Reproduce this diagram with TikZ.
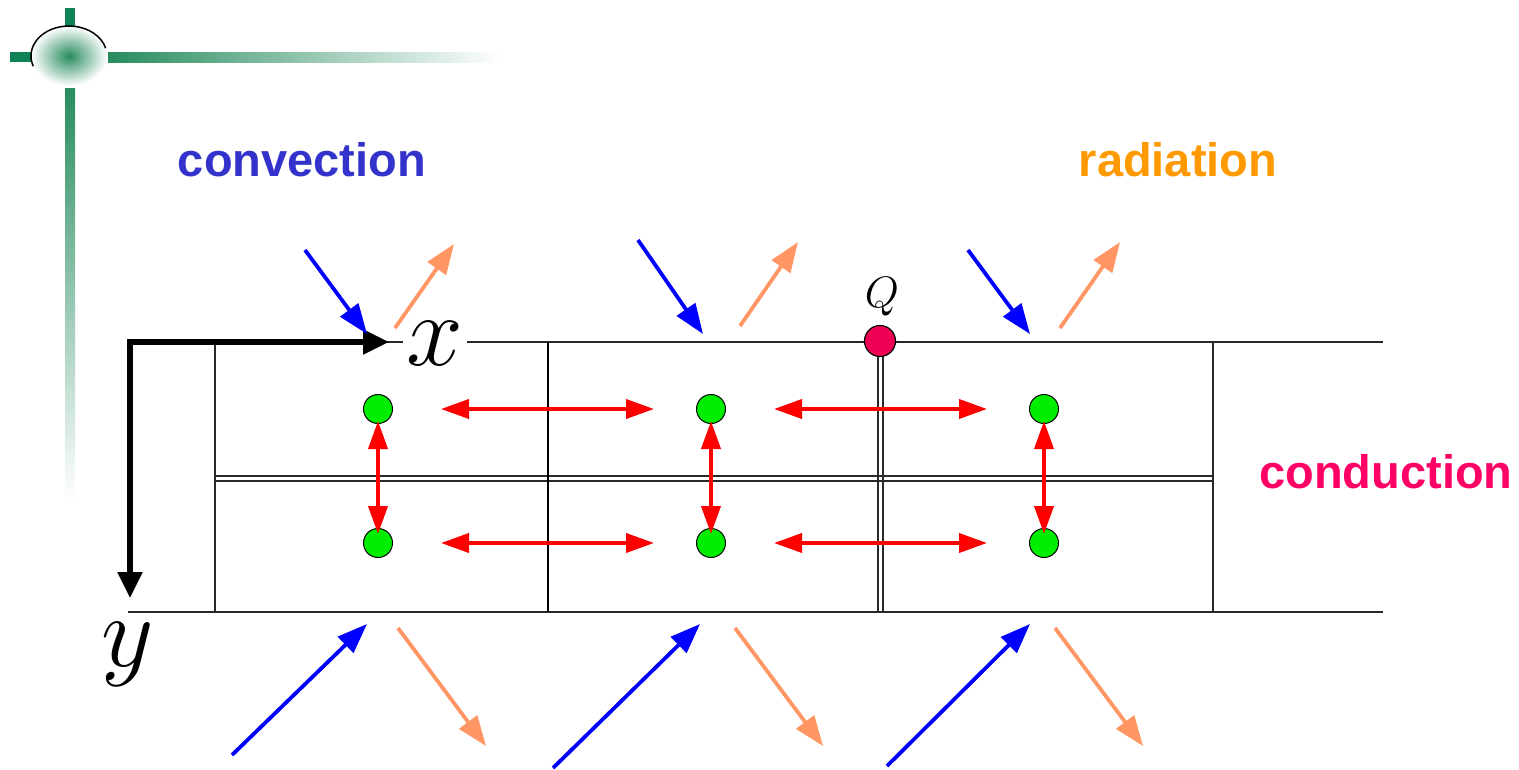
\RequirePackage{fix-cm}
\documentclass[tikz,border=0pt]{standalone}
\usepackage{fontspec}
\newfontfamily\labfont{Liberation Sans}
\usetikzlibrary{arrows.meta,calc,positioning}
\definecolor{deco}{RGB}{40,140,95}
\definecolor{decodark}{RGB}{16,130,85}
\definecolor{convblue}{RGB}{51,51,204}
\definecolor{radorange}{RGB}{255,153,0}
\definecolor{condpink}{RGB}{255,0,102}
\definecolor{salmon}{RGB}{255,150,100}
\definecolor{qpink}{RGB}{238,0,85}
\definecolor{dotgreen}{RGB}{0,238,0}
\definecolor{gridgray}{RGB}{40,40,40}
\tikzset{
  gridline/.style={draw=gridgray,line width=1.6pt},
  redarr/.style={draw=red,line width=3.8pt,{Triangle[length=28pt,width=19pt]}-{Triangle[length=28pt,width=19pt]}},
  bluearr/.style={draw=blue,line width=3.8pt,-{Triangle[length=30pt,width=22pt]}},
  orangearr/.style={draw=salmon,line width=3.8pt,-{Triangle[length=30pt,width=22pt]}},
  axisarr/.style={draw=black,line width=5.5pt,-{Triangle[length=26pt,width=24pt]}},
  dot/.style={circle,draw=black,line width=1pt,fill=dotgreen,minimum size=29pt,inner sep=0pt},
  qdot/.style={circle,draw=black,line width=1.2pt,fill=qpink,minimum size=31pt,inner sep=0pt},
  lab/.style={font=\labfont\bfseries\fontsize{47}{50}\selectfont,inner sep=0pt},
  mathlab/.style={inner sep=0pt,font=\fontsize{102}{102}\selectfont}
}
\begin{document}
\begin{tikzpicture}[x=1pt,y=-1pt]
\useasboundingbox (0,0) rectangle (1519,769);
% decoration
\shade[left color=deco,right color=white] (108,52) rectangle (500,62);
\shade[top color=deco,bottom color=white] (65,88) rectangle (75,500);
\fill[decodark] (10,52) rectangle (31,62);
\fill[decodark] (65,8) rectangle (75,26);
\shade[inner color=deco,outer color=white] (69,56) ellipse [x radius=38,y radius=30];
\draw[black,line width=1.5pt] (69,56) ++(160:38 and 30) arc[start angle=160,end angle=345,x radius=38,y radius=30];
% grid
\draw[gridline] (130,342) -- (1383,342);
\draw[gridline] (128,612) -- (1383,612);
\draw[gridline] (215,476) -- (1213,476);
\draw[gridline] (215,481) -- (1213,481);
\draw[gridline] (215,342) -- (215,612);
\draw[draw=black,line width=2.8pt] (548,342) -- (548,612);
\draw[gridline] (878,342) -- (878,612);
\draw[gridline] (883,342) -- (883,612);
\draw[gridline] (1213,342) -- (1213,612);
% axes
\coordinate (O) at (130,342);
\coordinate (xe) at (389,342);
\coordinate (ye) at (130,598);
\draw[axisarr] ([xshift=-2.75pt]O) -- (xe);
\draw[axisarr] (O) -- (ye);
\node[mathlab,fill=white,inner xsep=4pt] (xl) at (435,344) {$x$};
\node[mathlab] (yl) at (128,654) {$y$};
% dots
\node[dot] (a1) at (378,409) {};
\node[dot] (a2) at (711,409) {};
\node[dot] (a3) at (1044,409) {};
\node[dot] (b1) at (378,543) {};
\node[dot] (b2) at (711,543) {};
\node[dot] (b3) at (1044,543) {};
% conduction arrows
\draw[redarr] ([xshift=48pt]a1.east) -- ([xshift=-42pt]a2.west);
\draw[redarr] ([xshift=48pt]a2.east) -- ([xshift=-42pt]a3.west);
\draw[redarr] ([xshift=48pt]b1.east) -- ([xshift=-42pt]b2.west);
\draw[redarr] ([xshift=48pt]b2.east) -- ([xshift=-42pt]b3.west);
\draw[redarr] ([yshift=3pt]a1.south) -- ([yshift=-6pt]b1.north);
\draw[redarr] ([yshift=3pt]a2.south) -- ([yshift=-6pt]b2.north);
\draw[redarr] ([yshift=3pt]a3.south) -- ([yshift=-6pt]b3.north);
% Q
\node[qdot] (q) at (880,341) {};
\node[inner sep=0pt,font=\fontsize{44}{44}\selectfont] (ql) at (882,297) {$Q$};
% convection arrows
\coordinate (c1s) at (305,250); \coordinate (c1e) at (367,334);
\coordinate (c2s) at (638,240); \coordinate (c2e) at (703,334);
\coordinate (c3s) at (968,250); \coordinate (c3e) at (1030,334);
\coordinate (c4s) at (232,755); \coordinate (c4e) at (367,624);
\coordinate (c5s) at (553,768); \coordinate (c5e) at (700,624);
\coordinate (c6s) at (887,766); \coordinate (c6e) at (1030,624);
\foreach \i in {1,...,6} \draw[bluearr] (c\i s) -- (c\i e);
% radiation arrows
\coordinate (r1s) at (395,328); \coordinate (r1e) at (454,244);
\coordinate (r2s) at (740,326); \coordinate (r2e) at (798,242);
\coordinate (r3s) at (1060,328); \coordinate (r3e) at (1120,242);
\coordinate (r4s) at (398,628); \coordinate (r4e) at (486,746);
\coordinate (r5s) at (735,628); \coordinate (r5e) at (823,746);
\coordinate (r6s) at (1055,628); \coordinate (r6e) at (1143,746);
\foreach \i in {1,...,6} \draw[orangearr] (r\i s) -- (r\i e);
% labels
\node[lab,text=convblue] (conv) at (302,160) {convection};
\node[lab,text=radorange] (rad) at (1178,160) {radiation};
\node[lab,text=condpink] (cond) at (1386,472) {conduction};
\end{tikzpicture}
\end{document}
